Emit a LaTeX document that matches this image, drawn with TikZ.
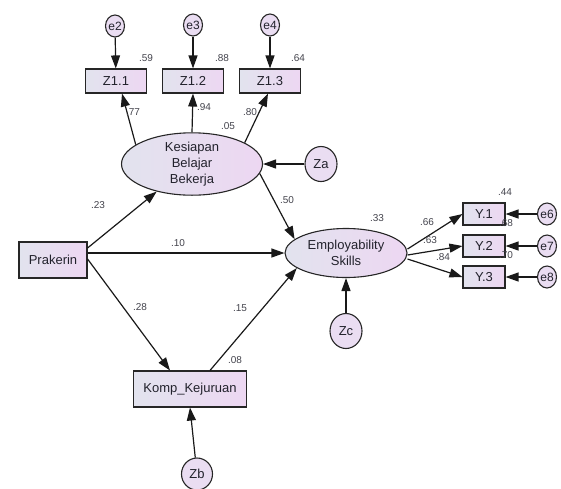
\documentclass[tikz,border=0pt]{standalone}
\usepackage{fontspec}
\setmainfont{Liberation Sans}
\usetikzlibrary{shapes.geometric,arrows.meta,calc}
\definecolor{fillL}{HTML}{E2E3EE}
\definecolor{fillR}{HTML}{EDD7F2}
\definecolor{circ}{HTML}{EADDF2}
\definecolor{txt}{HTML}{22222C}
\begin{document}
\begin{tikzpicture}[x=1pt,y=-1pt,
  obs/.style={draw=black!85,line width=1.1pt,left color=fillL,right color=fillR,
    minimum height=24pt,inner sep=0pt,text=txt,font=\fontsize{13}{15}\selectfont},
  lat/.style={ellipse,draw=black!85,line width=1.1pt,left color=fillL,right color=fillR,
    inner sep=0pt,text=txt,align=center,font=\fontsize{13}{16}\selectfont},
  err/.style={ellipse,draw=black!85,line width=1.1pt,fill=circ,inner sep=0pt,
    minimum width=19pt,minimum height=22pt,text=txt,font=\fontsize{12}{14}\selectfont},
  dist/.style={ellipse,draw=black!85,line width=1.1pt,fill=circ,inner sep=0pt,
    minimum width=32pt,minimum height=35pt,text=txt,font=\fontsize{13}{15}\selectfont},
  lab/.style={text=txt!85,inner sep=0pt,font=\fontsize{10}{12}\selectfont},
  arr/.style={-{Triangle[length=13pt,width=9pt]},line width=1.2pt,black!90}]
\useasboundingbox (0,0) rectangle (561,488);
% observed indicators
\node[obs,minimum width=61pt] (Z11) at (116,81) {Z1.1};
\node[obs,minimum width=61pt] (Z12) at (193,81) {Z1.2};
\node[obs,minimum width=61pt] (Z13) at (270,81) {Z1.3};
\node[err] (e2) at (115,26) {e2};
\node[err] (e3) at (193,25) {e3};
\node[err] (e4) at (270,25) {e4};
% latent
\node[lat,minimum width=141pt,minimum height=58pt] (KBB) at (192,164) {Kesiapan\\Belajar\\Bekerja};
\node[dist] (Za) at (321,164) {Za};
\node[obs,minimum width=68pt,minimum height=36pt] (Prak) at (53,260) {Prakerin};
\node[lat,minimum width=122pt,minimum height=49pt] (ES) at (346,253) {Employability\\Skills};
\node[dist] (Zc) at (346,331) {Zc};
\node[obs,minimum width=113pt,minimum height=36pt] (Komp) at (190,389) {Komp\_Kejuruan};
\node[dist,minimum width=31pt,minimum height=32pt] (Zb) at (197,474) {Zb};
\node[obs,minimum width=42pt,minimum height=22pt] (Y1) at (484,214) {Y.1};
\node[obs,minimum width=42pt,minimum height=22pt] (Y2) at (484,246) {Y.2};
\node[obs,minimum width=42pt,minimum height=22pt] (Y3) at (484,277) {Y.3};
\node[err] (e6) at (547,214) {e6};
\node[err] (e7) at (547,246) {e7};
\node[err] (e8) at (547,277) {e8};
% arrows
\draw[arr] (e2) -- (Z11);
\draw[arr] (e3) -- (Z12);
\draw[arr] (e4) -- (Z13);
\draw[arr] (KBB.161) -- ($(Z11.south)+(6,0)$);
\draw[arr] (KBB.north) -- (Z12.south);
\draw[arr] (KBB.22) -- ($(Z13.south)+(-2,0)$);
\draw[arr] (Za) -- (KBB.east);
\draw[arr] ($(Prak.east)+(0,-12)$) -- (KBB.218);
\draw[arr] (Prak.east |- ES.west) -- (ES.west);
\draw[arr] ($(Prak.east)+(0,-1)$) -- ($(Komp.north)+(-20,0)$);
\draw[arr] ($(Komp.north)+(20,0)$) -- (ES.197);
\draw[arr] (KBB.-8) -- (ES.165);
\draw[arr] (Zc) -- (ES.south);
\draw[arr] (Zb) -- (Komp.south);
\draw[arr] ($(ES.east)+(0,-4)$) -- (Y1.west);
\draw[arr] ($(ES.east)+(0,2)$) -- (Y2.west);
\draw[arr] ($(ES.east)+(0,6)$) -- (Y3.west);
\draw[arr] (e6) -- (Y1);
\draw[arr] (e7) -- (Y2);
\draw[arr] (e8) -- (Y3);
% labels
\node[lab] (l59) at (146,58) {.59};
\node[lab] (l88) at (222,58) {.88};
\node[lab] (l64) at (298,58) {.64};
\node[lab] (l77) at (133,112) {.77};
\node[lab] (l94) at (204,107) {.94};
\node[lab] (l80) at (250,112) {.80};
\node[lab] (l05) at (228,126) {.05};
\node[lab] (l50) at (287,200) {.50};
\node[lab] (l23) at (98,205) {.23};
\node[lab] (l10) at (178,243) {.10};
\node[lab] (l28) at (140,307) {.28};
\node[lab] (l15) at (240,308) {.15};
\node[lab] (l08) at (235,360) {.08};
\node[lab] (l33) at (377,218) {.33};
\node[lab] (l66) at (427,222) {.66};
\node[lab] (l63) at (430,240) {.63};
\node[lab] (l84) at (443,257) {.84};
\node[lab] (l44) at (505,192) {.44};
\node[lab] (l68) at (506,223) {.68};
\node[lab] (l70) at (506,255) {.70};
\end{tikzpicture}
\end{document}
